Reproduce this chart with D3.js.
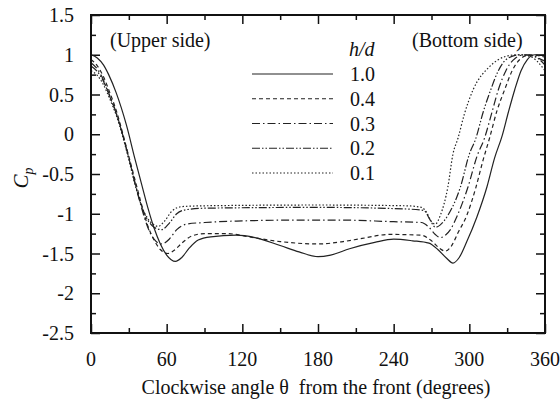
<!DOCTYPE html>
<html lang="en">
<head>
<meta charset="UTF-8">
<title>Cp vs clockwise angle</title>
<script src="https://d3js.org/d3.v7.min.js"></script>
<style>
  body { margin: 0; background: #fff; }
  svg text { font-family: "Liberation Serif", "DejaVu Serif", serif; fill: #111; }
</style>
</head>
<body>
<div id="chart"></div>
<script>
// values: [angle (deg), Cp]
const hd10 = [[0,1.0],[5,0.96],[10,0.87],[14,0.75],[20,0.52],[28,0.12],[35,-0.32],[40,-0.62],[45,-0.92],[50,-1.18],[55,-1.38],[60,-1.52],[67,-1.60],[72,-1.55],[78,-1.43],[85,-1.33],[95,-1.29],[115,-1.27],[130,-1.30],[150,-1.40],[165,-1.48],[180,-1.54],[190,-1.52],[205,-1.44],[225,-1.36],[240,-1.32],[255,-1.34],[268,-1.37],[275,-1.45],[282,-1.56],[287,-1.62],[292,-1.55],[298,-1.35],[306,-1.04],[314,-0.66],[320,-0.30],[326,-0.02],[331,0.28],[336,0.56],[341,0.80],[346,0.94],[352,1.0],[360,1.0]];
const hd04 = [[0,0.94],[5,0.86],[10,0.72],[15,0.52],[20,0.30],[25,0.02],[30,-0.28],[35,-0.58],[40,-0.88],[45,-1.15],[50,-1.33],[55,-1.45],[61,-1.50],[66,-1.46],[72,-1.37],[80,-1.28],[90,-1.25],[108,-1.25],[125,-1.29],[150,-1.35],[180,-1.38],[200,-1.35],[215,-1.31],[237,-1.26],[262,-1.27],[270,-1.34],[276,-1.43],[281,-1.47],[286,-1.40],[291,-1.24],[298,-1.02],[305,-0.68],[311,-0.32],[316,-0.05],[322,0.30],[328,0.56],[334,0.80],[340,0.94],[348,1.0],[360,0.97]];
const hd03 = [[0,0.90],[5,0.82],[10,0.68],[15,0.48],[20,0.27],[25,0.0],[30,-0.30],[35,-0.62],[40,-0.92],[45,-1.17],[50,-1.32],[56,-1.38],[62,-1.32],[68,-1.20],[76,-1.13],[90,-1.11],[120,-1.09],[160,-1.08],[200,-1.08],[240,-1.10],[262,-1.11],[268,-1.17],[273,-1.26],[277,-1.30],[281,-1.27],[285,-1.20],[290,-1.04],[299,-0.66],[306,-0.28],[312,-0.05],[318,0.28],[323,0.56],[329,0.80],[336,0.95],[344,1.0],[360,0.92]];
const hd02 = [[0,0.86],[5,0.79],[10,0.66],[15,0.47],[20,0.26],[25,0.0],[30,-0.30],[35,-0.62],[40,-0.90],[45,-1.08],[50,-1.17],[56,-1.20],[62,-1.12],[68,-1.00],[75,-0.95],[90,-0.93],[180,-0.92],[250,-0.94],[264,-0.96],[269,-1.08],[273,-1.17],[277,-1.14],[283,-1.02],[293,-0.66],[300,-0.25],[305,-0.06],[311,0.28],[317,0.56],[323,0.80],[330,0.95],[340,1.0],[350,0.99],[360,0.87]];
const hd01 = [[0,0.80],[5,0.74],[10,0.62],[15,0.44],[20,0.24],[25,-0.02],[30,-0.32],[35,-0.64],[40,-0.90],[45,-1.06],[50,-1.14],[53,-1.16],[58,-1.10],[64,-0.97],[72,-0.91],[90,-0.90],[180,-0.89],[250,-0.90],[262,-0.92],[266,-0.98],[270,-1.10],[273,-1.13],[277,-1.02],[283,-0.66],[287,-0.25],[291,-0.05],[296,0.25],[303,0.56],[316,0.85],[329,0.98],[338,1.0],[348,0.98],[360,0.80]];

const legendLabels = ["1.0", "0.4", "0.3", "0.2", "0.1"];
const xTicks = [0, 60, 120, 180, 240, 300, 360];
const yTicks = [1.5, 1, 0.5, 0, -0.5, -1, -1.5, -2, -2.5];

const series = [hd10, hd04, hd03, hd02, hd01];
const dashes = [null, "4,3", "8,3,1.5,3", "8,2,1.5,2,1.5,2", "1.5,2"];

const width = 560, height = 400;
const margin = { top: 15, right: 15, bottom: 67, left: 91 };
const fs = 20;

const svg = d3.select("#chart").append("svg")
    .attr("width", width)
    .attr("height", height);

const x = d3.scaleLinear().domain([0, 360]).range([margin.left, width - margin.right]);
const y = d3.scaleLinear().domain([-2.5, 1.5]).range([height - margin.bottom, margin.top]);

// inward ticks on all four sides, minor ticks between
function ticks(axisFn, scale, vals, len, transform) {
    svg.append("g")
        .attr("transform", transform)
        .call(axisFn(scale).tickValues(vals).tickSize(len).tickFormat(""))
        .call(g => g.select(".domain").remove())
        .call(g => g.selectAll("line").attr("stroke", "#111").attr("stroke-width", 1.5));
}
const xMinor = d3.range(30, 360, 60);
const yMinor = d3.range(-2.25, 1.5, 0.5);
const bottomY = height - margin.bottom, rightX = width - margin.right;
ticks(d3.axisTop, x, xTicks, 9, `translate(0,${bottomY})`);
ticks(d3.axisTop, x, xMinor, 5, `translate(0,${bottomY})`);
ticks(d3.axisBottom, x, xTicks, 9, `translate(0,${margin.top})`);
ticks(d3.axisBottom, x, xMinor, 5, `translate(0,${margin.top})`);
ticks(d3.axisRight, y, yTicks, 9, `translate(${margin.left},0)`);
ticks(d3.axisRight, y, yMinor, 5, `translate(${margin.left},0)`);
ticks(d3.axisLeft, y, yTicks, 9, `translate(${rightX},0)`);
ticks(d3.axisLeft, y, yMinor, 5, `translate(${rightX},0)`);

// tick labels (plain hyphen for negatives, as in the original)
svg.append("g").selectAll("text")
    .data(xTicks).join("text")
    .attr("x", d => x(d))
    .attr("y", bottomY + 33)
    .attr("text-anchor", "middle")
    .attr("font-size", fs)
    .text(d => d);

svg.append("g").selectAll("text")
    .data(yTicks).join("text")
    .attr("x", margin.left - 17)
    .attr("y", d => y(d))
    .attr("dy", "0.35em")
    .attr("text-anchor", "end")
    .attr("font-size", fs)
    .text(d => String(d));

// curves
const line = d3.line()
    .x(d => x(d[0]))
    .y(d => y(d[1]))
    .curve(d3.curveMonotoneX);

svg.append("g").selectAll("path")
    .data(series).join("path")
    .attr("d", line)
    .attr("fill", "none")
    .attr("stroke", "#222")
    .attr("stroke-width", 1.2)
    .attr("stroke-dasharray", (d, i) => dashes[i]);

// frame
svg.append("rect")
    .attr("x", margin.left)
    .attr("y", margin.top)
    .attr("width", rightX - margin.left)
    .attr("height", bottomY - margin.top)
    .attr("fill", "none")
    .attr("stroke", "#111")
    .attr("stroke-width", 2);

// axis titles
svg.append("text")
    .attr("x", (margin.left + rightX) / 2 - 2)
    .attr("y", 394)
    .attr("text-anchor", "middle")
    .attr("font-size", fs)
    .text("Clockwise angle \u03B8\u00A0 from the front (degrees)");

const yl = svg.append("text")
    .attr("transform", "translate(28,178) rotate(-90)")
    .attr("text-anchor", "middle")
    .attr("font-size", 21)
    .attr("font-style", "italic");
yl.append("tspan").text("C");
yl.append("tspan").attr("font-size", 14).attr("dy", 5).text("p");

// side notes
svg.append("text").attr("x", 110).attr("y", 47).attr("font-size", fs).text("(Upper side)");
svg.append("text").attr("x", 412).attr("y", 47).attr("font-size", fs).text("(Bottom side)");

// legend
const legendY = d3.scalePoint().domain(legendLabels).range([74, 173]);
svg.append("text")
    .attr("x", 349).attr("y", 56)
    .attr("font-size", fs)
    .attr("font-style", "italic")
    .text("h/d");
const lg = svg.append("g").selectAll("g")
    .data(legendLabels).join("g");
lg.append("line")
    .attr("x1", 252).attr("x2", 333)
    .attr("y1", d => legendY(d)).attr("y2", d => legendY(d))
    .attr("stroke", "#222")
    .attr("stroke-width", 1.2)
    .attr("stroke-dasharray", (d, i) => dashes[i]);
lg.append("text")
    .attr("x", 350)
    .attr("y", d => legendY(d))
    .attr("dy", "0.35em")
    .attr("font-size", fs)
    .text(d => d);
</script>
</body>
</html>
